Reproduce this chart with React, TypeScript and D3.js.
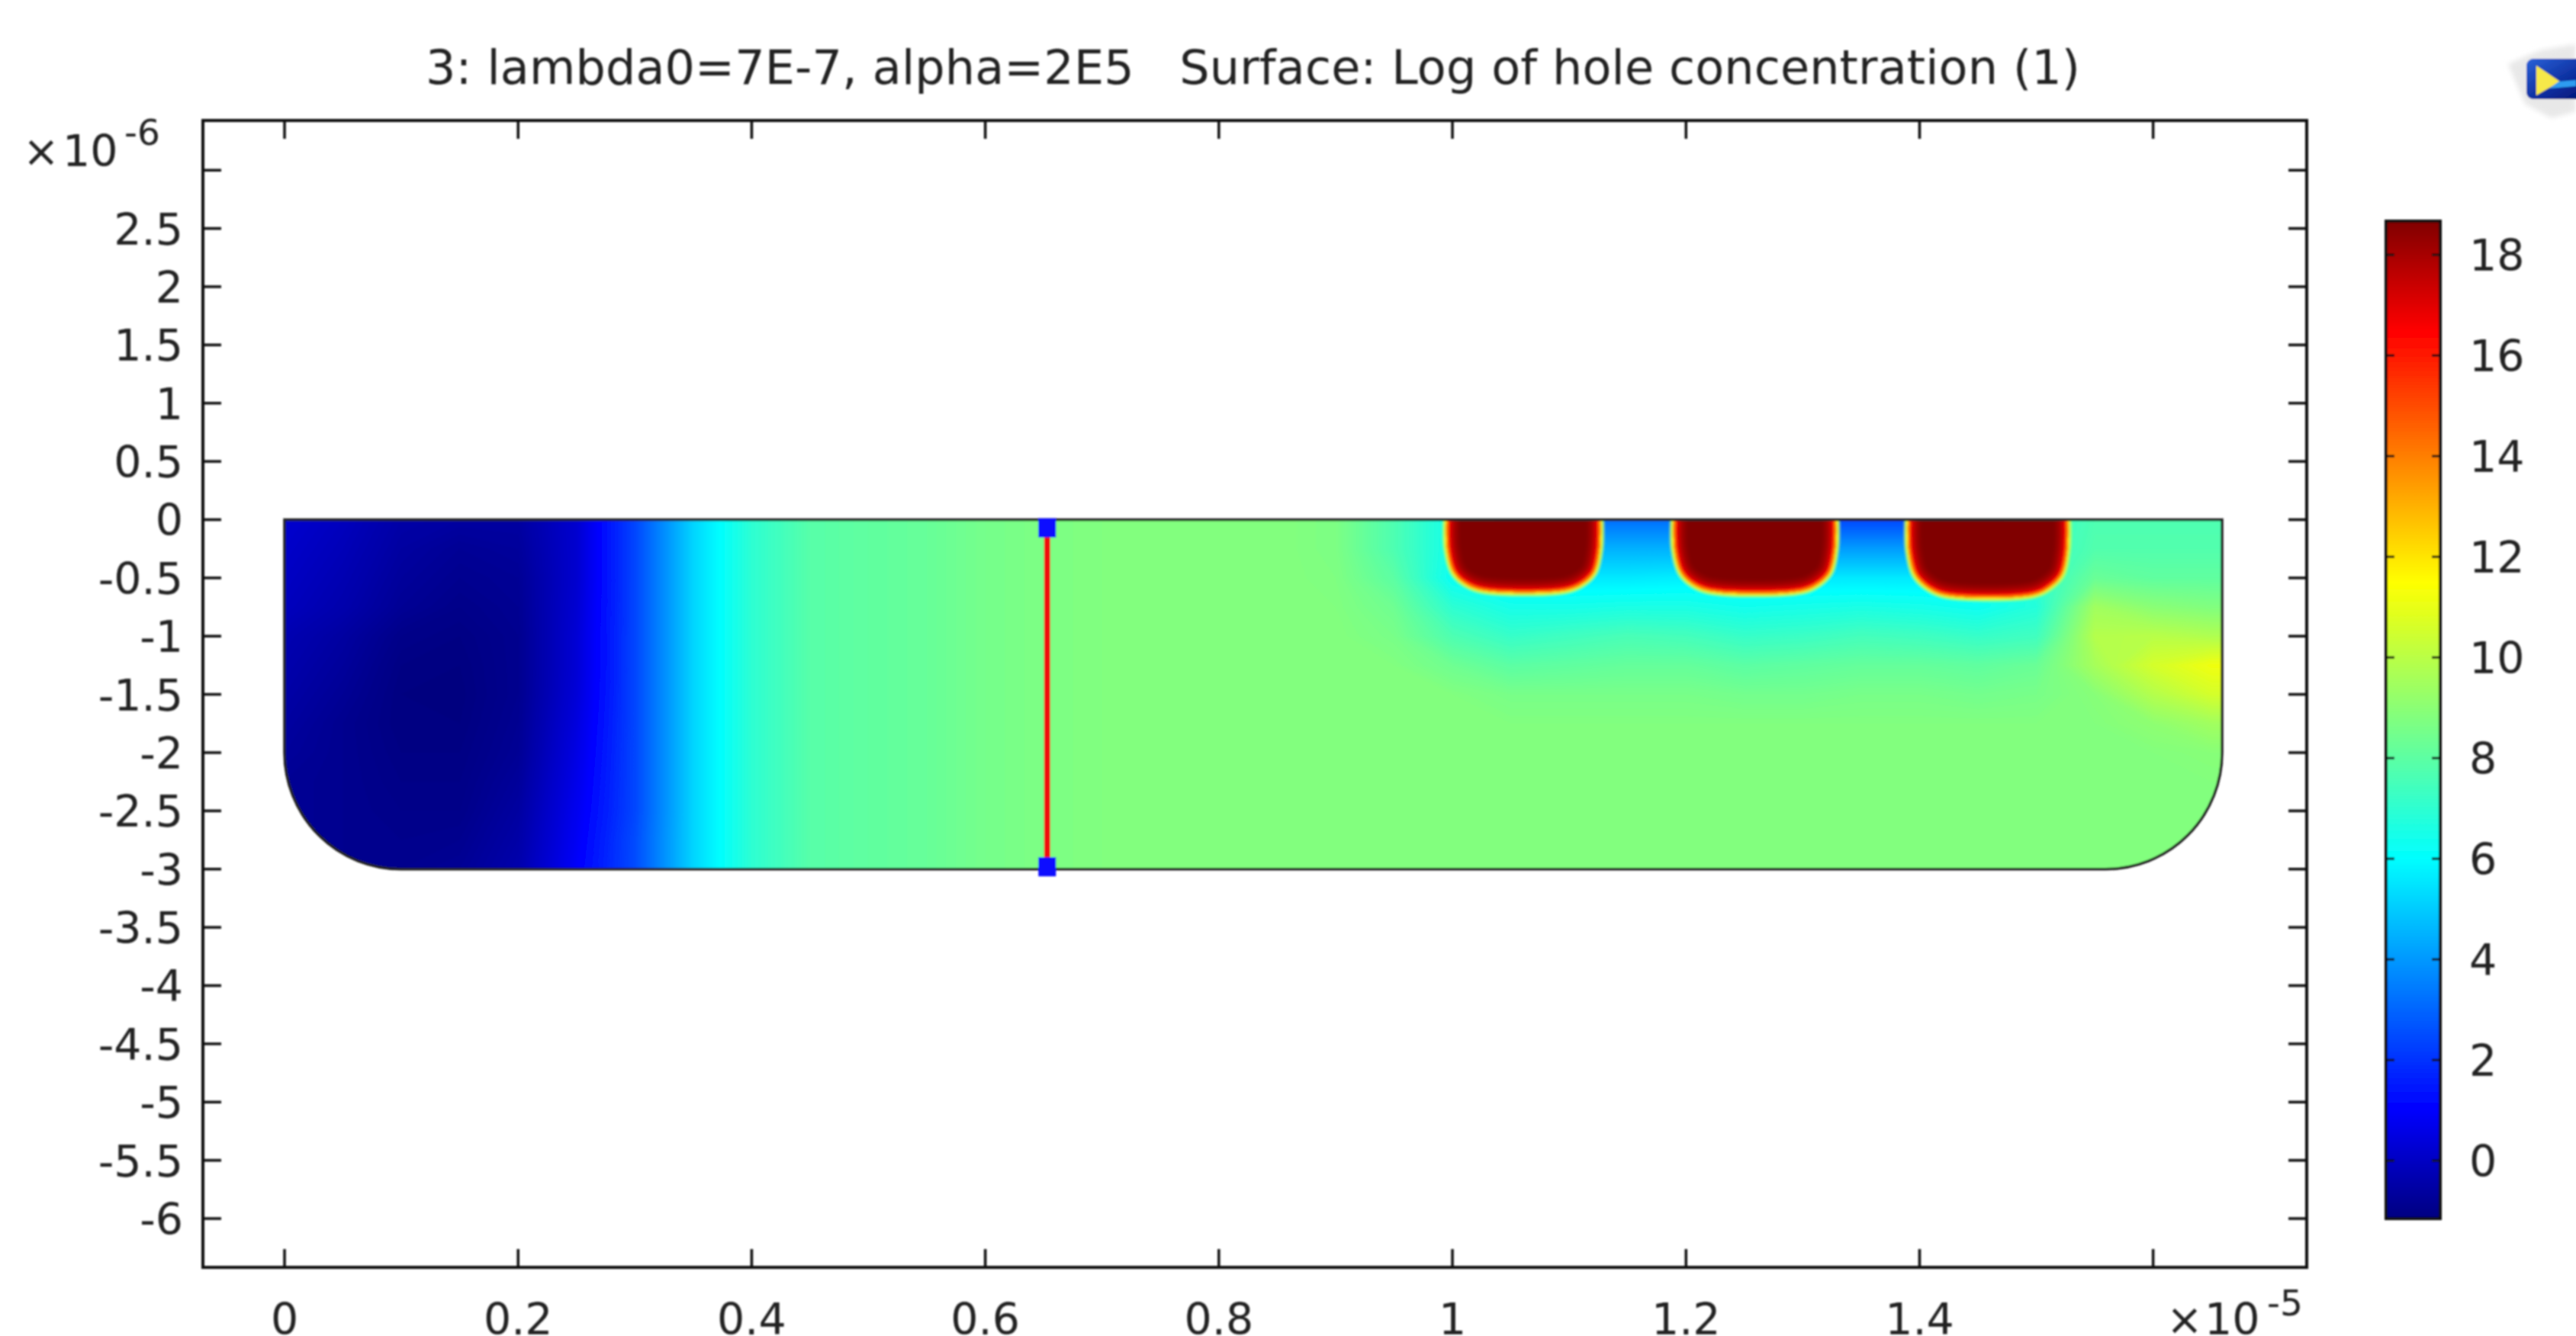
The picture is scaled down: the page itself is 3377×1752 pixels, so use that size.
import React from 'react';
import * as d3 from 'd3';

// axis ticks, x in units of 1e-5, y in units of 1e-6
const xTicks = [0, 0.2, 0.4, 0.6, 0.8, 1, 1.2, 1.4, 1.6];
const xLabelled = [0, 0.2, 0.4, 0.6, 0.8, 1, 1.2, 1.4];
const yTicks = [3, 2.5, 2, 1.5, 1, 0.5, 0, -0.5, -1, -1.5, -2, -2.5, -3, -3.5, -4, -4.5, -5, -5.5, -6];
const yLabelled = yTicks.slice(1);
const barTicks = [0, 2, 4, 6, 8, 10, 12, 14, 16, 18];

const titleText = '3: lambda0=7E-7, alpha=2E5   Surface: Log of hole concentration (1)';

// jet colour table
const jetValues = [-1.18, 1, 6, 8.76, 11.5, 16.5, 18.7];
const jetColors = ['#000080', '#0000ff', '#00ffff', '#80ff80', '#ffff00', '#ff0000', '#800000'];

// log of hole concentration
// rows go 0, -0.25, ... -3 (1e-6), columns go 0, 0.05, ... 1.7 (1e-5)
const gridStepX = 0.05;
const gridStepY = 0.25;
const field = [
  [0.2, -0.1, -0.5, -0.6, -0.6, 0.2, 2.4, 5.2, 7.0, 7.9, 8.1, 8.25, 8.55, 8.7, 8.8, 8.85, 8.85, 8.85, 8.7, 7.7, 6.4, 5.0, 3.2, 3.2, 3.2, 3.0, 2.4, 2.4, 2.4, 4.0, 7.0, 7.7, 7.7, 7.7, 7.7],
  [0.1, -0.2, -0.6, -0.8, -0.7, 0.2, 2.4, 5.2, 7.0, 7.9, 8.1, 8.25, 8.55, 8.7, 8.8, 8.85, 8.85, 8.85, 8.7, 7.7, 6.4, 5.2, 4.5, 4.5, 4.5, 4.2, 4.1, 4.1, 4.1, 5.0, 7.0, 7.8, 7.8, 7.8, 7.8],
  [0.0, -0.3, -0.7, -0.9, -0.8, 0.2, 2.4, 5.2, 7.0, 7.9, 8.1, 8.25, 8.55, 8.7, 8.8, 8.85, 8.85, 8.85, 8.75, 8.0, 6.2, 5.7, 5.6, 5.6, 5.7, 5.7, 5.6, 5.6, 5.6, 5.6, 7.0, 8.3, 8.1, 8.1, 8.1],
  [-0.1, -0.4, -0.8, -1.0, -0.85, 0.25, 2.4, 5.2, 7.0, 7.9, 8.1, 8.25, 8.55, 8.7, 8.8, 8.85, 8.85, 8.85, 8.8, 8.4, 7.0, 6.5, 6.5, 6.6, 6.6, 6.4, 6.5, 6.6, 6.5, 6.3, 6.8, 9.5, 9.0, 8.8, 8.8],
  [-0.3, -0.6, -1.0, -1.1, -0.9, 0.3, 2.4, 5.2, 7.0, 7.9, 8.1, 8.25, 8.55, 8.7, 8.8, 8.85, 8.85, 8.85, 8.85, 8.6, 7.7, 7.2, 7.4, 7.6, 7.5, 7.2, 7.3, 7.5, 7.4, 7.2, 7.4, 9.9, 10.0, 9.8, 9.8],
  [-0.4, -0.7, -1.1, -1.15, -0.9, 0.3, 2.4, 5.2, 7.0, 7.9, 8.1, 8.25, 8.55, 8.7, 8.8, 8.85, 8.85, 8.85, 8.85, 8.8, 8.4, 8.0, 8.1, 8.2, 8.2, 8.0, 8.1, 8.2, 8.2, 8.1, 8.3, 9.6, 10.6, 11.2, 11.2],
  [-0.5, -0.8, -1.15, -1.18, -0.9, 0.35, 2.4, 5.2, 7.0, 7.9, 8.1, 8.25, 8.55, 8.7, 8.8, 8.85, 8.85, 8.85, 8.85, 8.85, 8.8, 8.6, 8.6, 8.6, 8.6, 8.5, 8.5, 8.6, 8.6, 8.5, 8.6, 8.95, 9.9, 10.6, 10.6],
  [-0.6, -0.9, -1.15, -1.15, -0.85, 0.45, 2.4, 5.2, 7.0, 7.9, 8.1, 8.25, 8.55, 8.7, 8.8, 8.85, 8.85, 8.85, 8.85, 8.85, 8.85, 8.8, 8.8, 8.8, 8.8, 8.8, 8.8, 8.8, 8.8, 8.8, 8.8, 8.85, 9.1, 9.5, 9.5],
  [-0.7, -0.9, -1.1, -1.1, -0.8, 0.55, 2.4, 5.2, 7.0, 7.9, 8.1, 8.25, 8.55, 8.7, 8.8, 8.85, 8.85, 8.85, 8.85, 8.85, 8.85, 8.85, 8.85, 8.85, 8.85, 8.85, 8.85, 8.85, 8.85, 8.85, 8.85, 8.85, 8.85, 8.95, 8.95],
  [-0.8, -0.9, -1.05, -1.05, -0.7, 0.65, 2.4, 5.2, 7.0, 7.9, 8.1, 8.25, 8.55, 8.7, 8.8, 8.85, 8.85, 8.85, 8.85, 8.85, 8.85, 8.85, 8.85, 8.85, 8.85, 8.85, 8.85, 8.85, 8.85, 8.85, 8.85, 8.85, 8.85, 8.85, 8.85],
  [-0.8, -0.9, -1.0, -1.0, -0.6, 0.75, 2.4, 5.2, 7.0, 7.9, 8.1, 8.25, 8.55, 8.7, 8.8, 8.85, 8.85, 8.85, 8.85, 8.85, 8.85, 8.85, 8.85, 8.85, 8.85, 8.85, 8.85, 8.85, 8.85, 8.85, 8.85, 8.85, 8.85, 8.85, 8.85],
  [-0.8, -0.9, -0.95, -0.9, -0.5, 0.85, 2.5, 5.2, 7.0, 7.9, 8.1, 8.25, 8.55, 8.7, 8.8, 8.85, 8.85, 8.85, 8.85, 8.85, 8.85, 8.85, 8.85, 8.85, 8.85, 8.85, 8.85, 8.85, 8.85, 8.85, 8.85, 8.85, 8.85, 8.85, 8.85],
  [-0.8, -0.9, -0.9, -0.8, -0.4, 0.95, 2.5, 5.2, 7.0, 7.9, 8.1, 8.25, 8.55, 8.7, 8.8, 8.85, 8.85, 8.85, 8.85, 8.85, 8.85, 8.85, 8.85, 8.85, 8.85, 8.85, 8.85, 8.85, 8.85, 8.85, 8.85, 8.85, 8.85, 8.85, 8.85],
];

// outline of the three doped wells, [x, y]
const wellA = [[0.9948, 0], [0.9954, -0.252], [1.0007, -0.448], [1.0105, -0.547], [1.0255, -0.606], [1.0973, -0.606], [1.1117, -0.547], [1.1215, -0.448], [1.1261, -0.252], [1.1267, 0]];
const wellB = [[1.1894, 0], [1.19, -0.252], [1.1953, -0.448], [1.2051, -0.55], [1.2201, -0.612], [1.2991, -0.612], [1.3135, -0.55], [1.3233, -0.448], [1.3279, -0.252], [1.3285, 0]];
const wellC = [[1.39, 0], [1.3906, -0.265], [1.3959, -0.47], [1.4057, -0.575], [1.4207, -0.645], [1.4977, -0.645], [1.5121, -0.575], [1.5219, -0.47], [1.5265, -0.265], [1.5271, 0]];
const wells = [wellA, wellB, wellC];
const wellGlow = [
  { width: 36, color: '#8c0000' },
  { width: 28, color: '#a00000' },
  { width: 20, color: '#c00000' },
  { width: 13, color: '#e80000' },
  { width: 8, color: '#ff2000' },
  { width: 4, color: '#ff9000' },
];

// device geometry
const deviceWidth = 1.659;
const deviceDepth = -3;
const cornerStart = -2;
const cutLineX = 0.653;
const cutLineEnds = [-0.07, -2.98];

const WIDTH = 3377;
const HEIGHT = 1752;
const FONT = '"DejaVu Sans"';
const FS = 57;

export default function App() {
  const box = { left: 266, right: 3024, top: 158, bottom: 1662 };

  const x = d3.scaleLinear().domain([-0.0699, 1.7315]).range([box.left, box.right]);
  const y = d3.scaleLinear().domain([3.427, -6.419]).range([box.top, box.bottom]);
  const barY = d3.scaleLinear().domain([18.7, -1.18]).range([288, 1600]);
  const jet = d3.scaleLinear<string>().domain(jetValues).range(jetColors).interpolate(d3.interpolateRgb);

  // nested contour bands of the field
  const nx = field[0].length;
  const ny = field.length;
  const thresholds = d3.range(-1.25, 11.5, 0.05);
  const contours = d3.contours().size([nx, ny]).thresholds(thresholds)(field.flat());
  const gridPath = d3.geoPath(
    d3.geoTransform({
      point(px, py) {
        this.stream.point(x((px - 0.5) * gridStepX), y(-(py - 0.5) * gridStepY));
      },
    })
  );

  // device outline with the two bottom fillets
  const r = y(deviceDepth) - y(cornerStart);
  const outline = d3.path();
  outline.moveTo(x(0), y(0));
  outline.lineTo(x(deviceWidth), y(0));
  outline.lineTo(x(deviceWidth), y(cornerStart));
  outline.arcTo(x(deviceWidth), y(deviceDepth), x(deviceWidth) - r, y(deviceDepth), r);
  outline.lineTo(x(0) + r, y(deviceDepth));
  outline.arcTo(x(0), y(deviceDepth), x(0), y(cornerStart), r);
  outline.closePath();

  const wellLine = d3
    .line<number[]>()
    .x((d) => x(d[0]))
    .y((d) => y(d[1]))
    .curve(d3.curveCatmullRom.alpha(0.5));

  const barStops = jetValues.map((v, i) => ({
    offset: (18.7 - v) / (18.7 + 1.18),
    color: jetColors[i],
  }));

  const textStyle = { fontFamily: FONT, fontSize: FS, fill: '#222' };

  return (
    <svg
      width={WIDTH}
      height={HEIGHT}
      viewBox={`0 0 ${WIDTH} ${HEIGHT}`}
      style={{ position: 'absolute', left: 0, top: 0, display: 'block', background: '#fff' }}
    >
      <defs>
        <clipPath id="device">
          <path d={outline.toString()} />
        </clipPath>
        {wells.map((w, i) => (
          <clipPath id={`well${i}`} key={i}>
            <path d={wellLine(w) || ''} />
          </clipPath>
        ))}
        <linearGradient id="barFill" x1="0" y1="0" x2="0" y2="1">
          {barStops.slice().reverse().map((s) => (
            <stop key={s.offset} offset={s.offset} stopColor={s.color} />
          ))}
        </linearGradient>
        <linearGradient id="iconFill" x1="0" y1="0" x2="1" y2="1">
          <stop offset="0" stopColor="#2a62d8" />
          <stop offset="0.6" stopColor="#0a2a9a" />
          <stop offset="1" stopColor="#02106a" />
        </linearGradient>
        <filter id="soft" filterUnits="userSpaceOnUse" x="0" y="0" width={WIDTH} height={HEIGHT}>
          <feGaussianBlur stdDeviation="1.2" />
        </filter>
        <filter id="wellSoft" filterUnits="userSpaceOnUse" x="0" y="0" width={WIDTH} height={HEIGHT}>
          <feGaussianBlur stdDeviation="1.5" />
        </filter>
        <filter id="iconSoft" filterUnits="userSpaceOnUse" x="3200" y="0" width="177" height="250">
          <feGaussianBlur stdDeviation="3" />
        </filter>
      </defs>

      <g filter="url(#soft)">
        {/* field */}
        <g clipPath="url(#device)">
          {contours.map((c) => (
            <path key={c.value} d={gridPath(c) || ''} fill={jet(c.value)} stroke="none" />
          ))}
          <g filter="url(#wellSoft)">
            {wells.map((w, i) => (
              <g key={i}>
                <path d={wellLine(w) || ''} fill="none" stroke="#a8ff58" strokeWidth={9} />
                <path d={wellLine(w) || ''} fill="none" stroke="#ffee00" strokeWidth={4} />
                <g clipPath={`url(#well${i})`}>
                  <path d={wellLine(w) || ''} fill="#800000" stroke="none" />
                  {wellGlow.map((g) => (
                    <path key={g.width} d={wellLine(w) || ''} fill="none" stroke={g.color} strokeWidth={g.width} />
                  ))}
                </g>
              </g>
            ))}
          </g>
        </g>
        <path d={outline.toString()} fill="none" stroke="#222" strokeWidth={3.5} />

        {/* cut line with its two end points */}
        <line x1={x(cutLineX)} x2={x(cutLineX)} y1={y(0)} y2={y(deviceDepth)} stroke="#f01010" strokeWidth={8} />
        {cutLineEnds.map((v) => (
          <rect key={v} x={x(cutLineX) - 11.5} y={y(v) - 12.5} width={23} height={25} fill="#0a0aff" />
        ))}

        {/* axes box */}
        <rect x={box.left} y={box.top} width={box.right - box.left} height={box.bottom - box.top} fill="none" stroke="#111" strokeWidth={4} />
        {xTicks.map((t) => (
          <g key={t} stroke="#111" strokeWidth={3.5}>
            <line x1={x(t)} x2={x(t)} y1={box.top} y2={box.top + 24} />
            <line x1={x(t)} x2={x(t)} y1={box.bottom} y2={box.bottom - 24} />
          </g>
        ))}
        {yTicks.map((t) => (
          <g key={t} stroke="#111" strokeWidth={3.5}>
            <line x1={box.left} x2={box.left + 24} y1={y(t)} y2={y(t)} />
            <line x1={box.right} x2={box.right - 24} y1={y(t)} y2={y(t)} />
          </g>
        ))}
        {xLabelled.map((t) => (
          <text key={t} x={x(t)} y={1750} textAnchor="middle" style={textStyle}>
            {String(t)}
          </text>
        ))}
        {yLabelled.map((t) => (
          <text key={t} x={240} y={y(t) + 21} textAnchor="end" style={textStyle}>
            {String(t)}
          </text>
        ))}

        {/* axis multipliers */}
        <text x={30} y={218} style={textStyle}>×</text>
        <text x={82} y={218} style={textStyle}>10</text>
        <text x={163} y={190} style={{ ...textStyle, fontSize: 47 }}>-6</text>
        <text x={2840} y={1750} style={textStyle}>×</text>
        <text x={2890} y={1750} style={textStyle}>10</text>
        <text x={2972} y={1725} style={{ ...textStyle, fontSize: 47 }}>-5</text>

        {/* title */}
        <text x={558} y={110} textLength={2169} lengthAdjust="spacing" style={{ ...textStyle, fontSize: 62, whiteSpace: 'pre' }}>
          {titleText}
        </text>

        {/* colour bar */}
        <rect x={3128} y={barY(18.7) + 2} width={71} height={barY(-1.18) - barY(18.7) - 4} fill="url(#barFill)" stroke="#111" strokeWidth={4} />
        {barTicks.map((t) => (
          <g key={t} stroke="#111" strokeWidth={3}>
            <line x1={3128} x2={3139} y1={barY(t)} y2={barY(t)} />
            <line x1={3199} x2={3188} y1={barY(t)} y2={barY(t)} />
          </g>
        ))}
        {barTicks.map((t) => (
          <text key={t} x={3237} y={barY(t) + 21} style={textStyle}>
            {String(t)}
          </text>
        ))}

        {/* window icon clipped at the page edge */}
        <path d="M3288 84 L3330 66 L3377 58 L3377 146 L3345 155 L3310 136 Z" fill="#e8e8e8" filter="url(#iconSoft)" />
        <rect x={3312} y={77} width={90} height={53} rx={9} fill="url(#iconFill)" />
        <path d="M3325 86 L3356 107 L3325 125 Z" fill="#f6e84a" />
        <path d="M3354 107 L3377 105 L3377 113 L3342 116 Z" fill="#2f9cf0" />
      </g>
    </svg>
  );
}
